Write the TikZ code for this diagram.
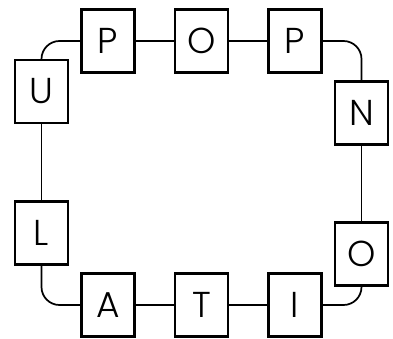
\documentclass[tikz,border=0pt]{standalone}
\usepackage{fontspec}
\setmainfont{Poppins Light}
\begin{document}
\begin{tikzpicture}[x=0.75pt,y=-0.75pt,
  letterbox/.style={draw=black,line width=1.8pt,fill=white,minimum width=39.5pt,minimum height=47pt,inner sep=0pt,font=\fontsize{27}{29}\selectfont},
  link/.style={draw=black,line width=1.3pt,rounded corners=13.5pt}]
\useasboundingbox (0,0) rectangle (393,339);
\node[letterbox] (p1) at (108,41) {P};
\node[letterbox] (o1) at (201.5,41) {O};
\node[letterbox] (p2) at (295,41) {P};
\node[letterbox] (n) at (361.5,113) {N};
\node[letterbox] (o2) at (361.5,254) {O};
\node[letterbox] (i) at (295,305) {I};
\node[letterbox] (t) at (201.5,305) {T};
\node[letterbox] (a) at (108,305) {A};
\node[letterbox] (l) at (41.5,233) {L};
\node[letterbox] (u) at (41.5,91.5) {U};
\draw[link] (p1) -- (o1);
\draw[link] (o1) -- (p2);
\draw[link] (p2.east) -| (n.north);
\draw[link] (n) -- (o2);
\draw[link] (o2.south) |- (i.east);
\draw[link] (i) -- (t);
\draw[link] (t) -- (a);
\draw[link] (a.west) -| (l.south);
\draw[link] (l) -- (u);
\draw[link] (u.north) |- (p1.west);
\end{tikzpicture}
\end{document}
